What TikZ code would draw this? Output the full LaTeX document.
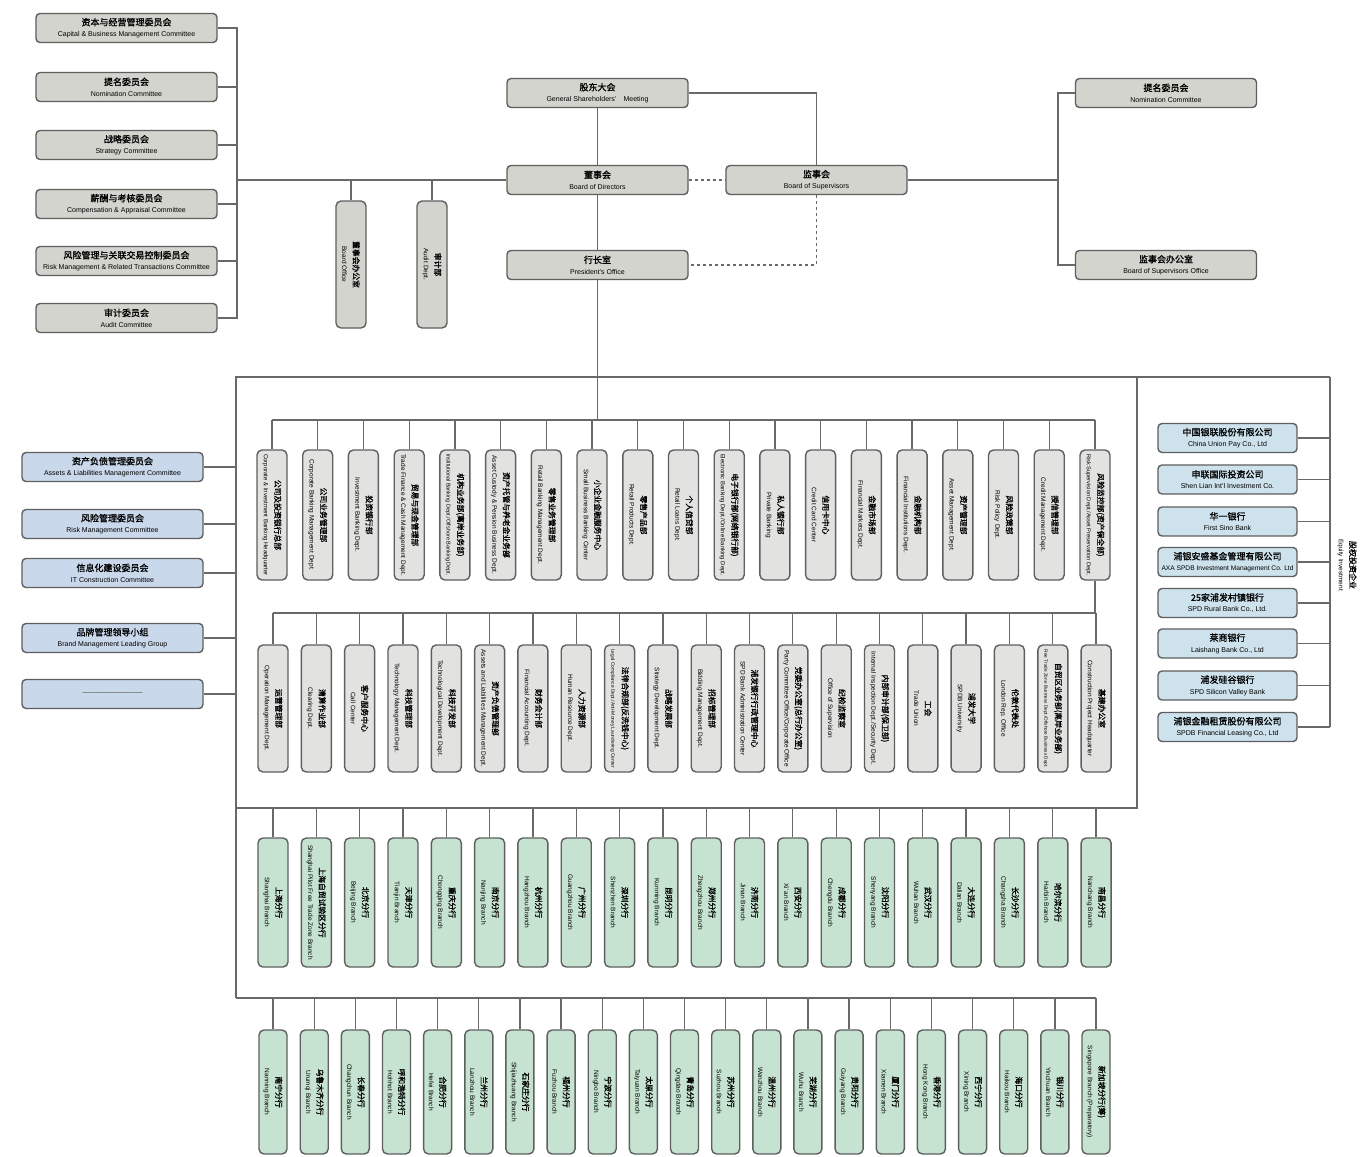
\documentclass[tikz,border=0pt]{standalone}
\usepackage{fontspec}
\usepackage{graphicx}
\setmainfont{Liberation Sans}
\newfontfamily\cjkb{Noto Sans CJK SC}[FakeBold=1.2]
\newsavebox\fitbox
\newcommand{\fitw}[2]{\sbox\fitbox{#2}\ifdim\wd\fitbox>#1\relax\resizebox{#1}{!}{\usebox\fitbox}\else\usebox\fitbox\fi}
\newcommand{\hb}[2]{\fitw{172pt}{\cjkb\fontsize{9}{10}\selectfont #1}\\[-1pt]\fitw{172pt}{\fontsize{7}{8}\selectfont #2}}
\newcommand{\hbs}[2]{\fitw{132pt}{\cjkb\fontsize{9}{10}\selectfont #1}\\[-1pt]\fitw{132pt}{\fontsize{7}{8}\selectfont #2}}
\definecolor{lnc}{RGB}{105,105,105}
\definecolor{bdc}{RGB}{95,95,95}
\definecolor{grayf}{RGB}{212,212,206}
\definecolor{depf}{RGB}{226,226,224}
\definecolor{greenf}{RGB}{198,227,209}
\definecolor{bluef}{RGB}{202,216,236}
\definecolor{cyanf}{RGB}{205,226,236}
\tikzset{
 ln/.style={draw=lnc, line width=1.3pt},
 dln/.style={draw=lnc, line width=1.5pt, dash pattern=on 3pt off 3pt},
 basebox/.style={draw=bdc, line width=1.4pt, rounded corners=4pt, align=center, inner sep=1pt},
 gbox/.style={basebox, fill=grayf, minimum width=181pt, minimum height=29pt},
 lbbox/.style={basebox, fill=bluef, minimum width=181pt, minimum height=29pt},
 rbbox/.style={basebox, fill=cyanf, minimum width=139pt, minimum height=29pt},
 vdep/.style={basebox, rotate=-90, rounded corners=5pt},
}
% vertical box: name, x, chinese, english
\newcommand{\vdept}[4]{%
  \node[vdep, fill=\rfill, minimum width=\rlen, minimum height=\rwid] (#1) at (#2,\ry) {\fitw{\rfit}{\cjkb\fontsize{7.8}{9}\selectfont #3}\\[-1pt]\fitw{\rfit}{\fontsize{6.5}{7.5}\selectfont #4}};%
  \draw[ln] (#1.west) -- (#1.west |- \rbus);}
\begin{document}
\begin{tikzpicture}[x=1pt,y=-1pt]
\useasboundingbox[fill=white] (0,0) rectangle (1361,1157);

% ---------- top-left board committees ----------
\node[gbox] (c1) at (126.5,28) {\hb{资本与经营管理委员会}{Capital \& Business Management Committee}};
\node[gbox] (c2) at (126.5,87) {\hb{提名委员会}{Nomination Committee}};
\node[gbox] (c3) at (126.5,145) {\hb{战略委员会}{Strategy Committee}};
\node[gbox] (c4) at (126.5,204) {\hb{薪酬与考核委员会}{Compensation \& Appraisal Committee}};
\node[gbox] (c5) at (126.5,261) {\hb{风险管理与关联交易控制委员会}{Risk Management \& Related Transactions Committee}};
\node[gbox] (c6) at (126.5,318) {\hb{审计委员会}{Audit Committee}};
\coordinate (lbr) at (237,180);
\draw[ln] (c1.east) -| (lbr) |- (c6.east);
\foreach \n in {c2,c3,c4,c5} \draw[ln] (\n.east) -- (\n.east -| lbr);

% ---------- governance ----------
\node[gbox] (gsm) at (597.5,93) {\hb{股东大会}{General Shareholders'\quad Meeting}};
\node[gbox] (bod) at (597.5,180) {\hb{董事会}{Board of Directors}};
\node[gbox] (sup) at (816.5,180) {\hb{监事会}{Board of Supervisors}};
\node[gbox] (pres) at (597.5,265) {\hb{行长室}{President's Office}};
\node[gbox] (nom2) at (1166,93) {\hb{提名委员会}{Nomination Committee}};
\node[gbox] (supo) at (1166,265) {\hb{监事会办公室}{Board of Supervisors Office}};
\coordinate (rbr) at (1058,180);

\draw[ln] (gsm.south) -- (bod.north);
\draw[ln] (bod.south) -- (pres.north);
\draw[ln] (gsm.east) -| (sup.north);
\draw[dln] (bod.east) -- (sup.west);
\draw[dln] (sup.south) |- (pres.east);
\draw[ln] (bod.west) -- (lbr);
\draw[ln] (sup.east) -- (rbr);
\draw[ln] (nom2.west) -| (rbr) |- (supo.west);

% board office / audit dept
\def\rfill{grayf}\def\rlen{127pt}\def\rwid{30pt}\def\ry{264.5}\def\rfit{118pt}\def\rbus{lbr}
\vdept{bo}{351}{董事会办公室}{Board Office}
\vdept{ad}{432}{审计部}{Audit Dept.}

% ---------- frame and buses ----------
\coordinate (fTL) at (236,377);
\coordinate (fTR) at (1137,377);
\coordinate (eqT) at (1330,377);
\coordinate (bus1) at (600,420);
\coordinate (bus2) at (600,613);
\coordinate (bus3) at (600,808);
\coordinate (bus4) at (600,998);

% ---------- left blue committees ----------
\node[lbbox] (lb1) at (112.5,467) {\hb{资产负债管理委员会}{Assets \& Liabilities Management Committee}};
\node[lbbox] (lb2) at (112.5,524) {\hb{风险管理委员会}{Risk Management Committee}};
\node[lbbox] (lb3) at (112.5,573) {\hb{信息化建设委员会}{IT Construction Committee}};
\node[lbbox] (lb4) at (112.5,638) {\hb{品牌管理领导小组}{Brand Management Leading Group}};
\node[lbbox] (lb5) at (112.5,694) {\textcolor{lnc}{\fontsize{10}{11}\selectfont ——————}};
\foreach \n in {lb1,lb2,lb3,lb4,lb5} \draw[ln] (\n.east) -- (\n.east -| fTL);

% ---------- right equity investments ----------
\node[rbbox] (rb1) at (1227.5,438) {\hbs{中国银联股份有限公司}{China Union Pay Co., Ltd}};
\node[rbbox] (rb2) at (1227.5,479.5) {\hbs{申联国际投资公司}{Shen Lian Int'l Investment Co.}};
\node[rbbox] (rb3) at (1227.5,521.5) {\hbs{华一银行}{First Sino Bank}};
\node[rbbox] (rb4) at (1227.5,562) {\hbs{浦银安盛基金管理有限公司}{AXA SPDB Investment Management Co. Ltd}};
\node[rbbox] (rb5) at (1227.5,603) {\hbs{25家浦发村镇银行}{SPD Rural Bank Co., Ltd.}};
\node[rbbox] (rb6) at (1227.5,643.5) {\hbs{莱商银行}{Laishang Bank Co., Ltd}};
\node[rbbox] (rb7) at (1227.5,685.5) {\hbs{浦发硅谷银行}{SPD Silicon Valley Bank}};
\node[rbbox] (rb8) at (1227.5,727) {\hbs{浦银金融租赁股份有限公司}{SPDB Financial Leasing Co., Ltd}};
\foreach \n in {rb1,rb2,rb3,rb4,rb5,rb6,rb7,rb8} \draw[ln] (\n.east) -- (\n.east -| eqT);
\draw[ln] (eqT) -- (rb8.east -| eqT);
\node[rotate=-90, align=center, inner sep=0pt] (eqlbl) at (1347,565) {{\cjkb\fontsize{8}{9}\selectfont 股权投资企业}\\[-1pt]{\fontsize{6.5}{7.5}\selectfont Equity Investment}};

% ---------- row 1 ----------
\def\rfill{depf}\def\rlen{130pt}\def\rwid{30pt}\def\ry{515}\def\rfit{122pt}\def\rbus{bus1}
\vdept{a1}{272}{公司及投资银行总部}{Corporate \& Investment Banking Headquarter}
\vdept{a2}{317.7}{公司业务管理部}{Corporate Banking Management Dept.}
\vdept{a3}{363.4}{投资银行部}{Investment Banking Dept.}
\vdept{a4}{409.2}{贸易与现金管理部}{Trade Finance \& Cash Management Dept.}
\vdept{a5}{454.9}{机构业务部(离岸业务部)}{Institutional Banking Dept./Offshore Banking Dept.}
\vdept{a6}{500.6}{资产托管与养老金业务部}{Asset Custody \& Pension Business Dept.}
\vdept{a7}{546.3}{零售业务管理部}{Retail Banking Management Dept.}
\vdept{a8}{592.0}{小企业金融服务中心}{Small Business Banking Center}
\vdept{a9}{637.8}{零售产品部}{Retail Products Dept.}
\vdept{a10}{683.5}{个人信贷部}{Retail Loans Dept.}
\vdept{a11}{729.2}{电子银行部(网络银行部)}{Electronic Banking Dept./Online Banking Dept.}
\vdept{a12}{774.9}{私人银行部}{Private Banking}
\vdept{a13}{820.6}{信用卡中心}{Credit Card Center}
\vdept{a14}{866.4}{金融市场部}{Financial Markets Dept.}
\vdept{a15}{912.1}{金融机构部}{Financial Institutions Dept.}
\vdept{a16}{957.8}{资产管理部}{Asset Management Dept.}
\vdept{a17}{1003.5}{风险政策部}{Risk Policy Dept.}
\vdept{a18}{1049.2}{授信管理部}{Credit Management Dept.}
\vdept{a19}{1095.0}{风险监控部(资产保全部)}{Risk Supervision Dept./Asset Preservation Dept.}
\draw[ln] (a1.west |- bus1) -- (a19.west |- bus1);
\draw[ln] (pres.south) -- (pres.south |- bus1);
\draw[ln] (a19.east) -- (a19.east |- bus2);

% ---------- row 2 ----------
\def\rfill{depf}\def\rlen{127pt}\def\rwid{30pt}\def\ry{708.5}\def\rfit{119pt}\def\rbus{bus2}
\vdept{b1}{273}{运营管理部}{Operation Management Dept.}
\vdept{b2}{316.3}{清算作业部}{Clearing Dept.}
\vdept{b3}{359.6}{客户服务中心}{Call Center}
\vdept{b4}{403.0}{科技管理部}{Technology Management Dept.}
\vdept{b5}{446.3}{科技开发部}{Technological Development Dept.}
\vdept{b6}{489.6}{资产负债管理部}{Assets and Liabilities Management Dept.}
\vdept{b7}{532.9}{财务会计部}{Financial Accounting Dept.}
\vdept{b8}{576.2}{人力资源部}{Human Resource Dept.}
\vdept{b9}{619.6}{法律合规部(反洗钱中心)}{Legal Compliance Dept./Anti-Money Laundering Center}
\vdept{b10}{662.9}{战略发展部}{Strategy Development Dept.}
\vdept{b11}{706.2}{招标管理部}{Bidding Management Dept.}
\vdept{b12}{749.5}{浦发银行行政管理中心}{SPD Bank Administration Center}
\vdept{b13}{792.8}{党委办公室(总行办公室)}{Party Committee Office/Corporate Office}
\vdept{b14}{836.2}{纪检监察室}{Office of Supervision}
\vdept{b15}{879.5}{内部审计部(保卫部)}{Internal Inspection Dept./Security Dept.}
\vdept{b16}{922.8}{工会}{Trade Union}
\vdept{b17}{966.1}{浦发大学}{SPDB University}
\vdept{b18}{1009.4}{伦敦代表处}{London Rep. Office}
\vdept{b19}{1052.8}{自贸区业务部(离岸业务部)}{Free Trade Zone Business Dept./Offshore Business Dept.}
\vdept{b20}{1096.1}{基建办公室}{Construction Project Headquarter}
\draw[ln] (b1.west |- bus2) -- (b20.west |- bus2);

% ---------- frame ----------
\draw[ln] (eqT) -- (fTL) -- (fTL |- bus4);
\draw[ln] (fTR) -- (fTR |- bus3) -- (fTL |- bus3);

% ---------- row 3 ----------
\def\rfill{greenf}\def\rlen{129pt}\def\rwid{30pt}\def\ry{902.5}\def\rfit{121pt}\def\rbus{bus3}
\vdept{d1}{273}{上海分行}{Shanghai Branch}
\vdept{d2}{316.3}{上海自贸试验区分行}{Shanghai Pilot Free Trade Zone Branch}
\vdept{d3}{359.6}{北京分行}{Beijing Branch}
\vdept{d4}{403.0}{天津分行}{Tianjin Branch}
\vdept{d5}{446.3}{重庆分行}{Chongqing Branch}
\vdept{d6}{489.6}{南京分行}{Nanjing Branch}
\vdept{d7}{532.9}{杭州分行}{Hangzhou Branch}
\vdept{d8}{576.2}{广州分行}{Guangzhou Branch}
\vdept{d9}{619.6}{深圳分行}{Shenzhen Branch}
\vdept{d10}{662.9}{昆明分行}{Kunming Branch}
\vdept{d11}{706.2}{郑州分行}{Zhengzhou Branch}
\vdept{d12}{749.5}{济南分行}{Jinan Branch}
\vdept{d13}{792.8}{西安分行}{Xi'\,an Branch}
\vdept{d14}{836.2}{成都分行}{Chengdu Branch}
\vdept{d15}{879.5}{沈阳分行}{Shenyang Branch}
\vdept{d16}{922.8}{武汉分行}{Wuhan Branch}
\vdept{d17}{966.1}{大连分行}{Dalian Branch}
\vdept{d18}{1009.4}{长沙分行}{Changsha Branch}
\vdept{d19}{1052.8}{哈尔滨分行}{Harbin Branch}
\vdept{d20}{1096.1}{南昌分行}{Nanchang Branch}

% ---------- row 4 ----------
\def\rfill{greenf}\def\rlen{124pt}\def\rwid{28pt}\def\ry{1092}\def\rfit{117pt}\def\rbus{bus4}
\vdept{e1}{273}{南宁分行}{Nanning Branch}
\vdept{e2}{314.2}{乌鲁木齐分行}{Urumqi Branch}
\vdept{e3}{355.3}{长春分行}{Changchun Branch}
\vdept{e4}{396.5}{呼和浩特分行}{Hohhot Branch}
\vdept{e5}{437.6}{合肥分行}{Hefei Branch}
\vdept{e6}{478.8}{兰州分行}{Lanzhou Branch}
\vdept{e7}{519.9}{石家庄分行}{Shijiazhuang Branch}
\vdept{e8}{561.1}{福州分行}{Fuzhou Branch}
\vdept{e9}{602.2}{宁波分行}{Ningbo Branch}
\vdept{e10}{643.4}{太原分行}{Taiyuan Branch}
\vdept{e11}{684.5}{青岛分行}{Qingdao Branch}
\vdept{e12}{725.7}{苏州分行}{Suzhou Branch}
\vdept{e13}{766.8}{温州分行}{Wenzhou Branch}
\vdept{e14}{807.9}{芜湖分行}{Wuhu Branch}
\vdept{e15}{849.1}{贵阳分行}{Guiyang Branch}
\vdept{e16}{890.3}{厦门分行}{Xiamen Branch}
\vdept{e17}{931.4}{香港分行}{Hong Kong Branch}
\vdept{e18}{972.6}{西宁分行}{Xining Branch}
\vdept{e19}{1013.7}{海口分行}{Haikou Branch}
\vdept{e20}{1054.9}{银川分行}{Yinchuan Branch}
\vdept{e21}{1096.0}{新加坡分行(筹)}{Singapore Branch (Preparatory)}
\draw[ln] (fTL |- bus4) -- (e21.west |- bus4);
\end{tikzpicture}
\end{document}
